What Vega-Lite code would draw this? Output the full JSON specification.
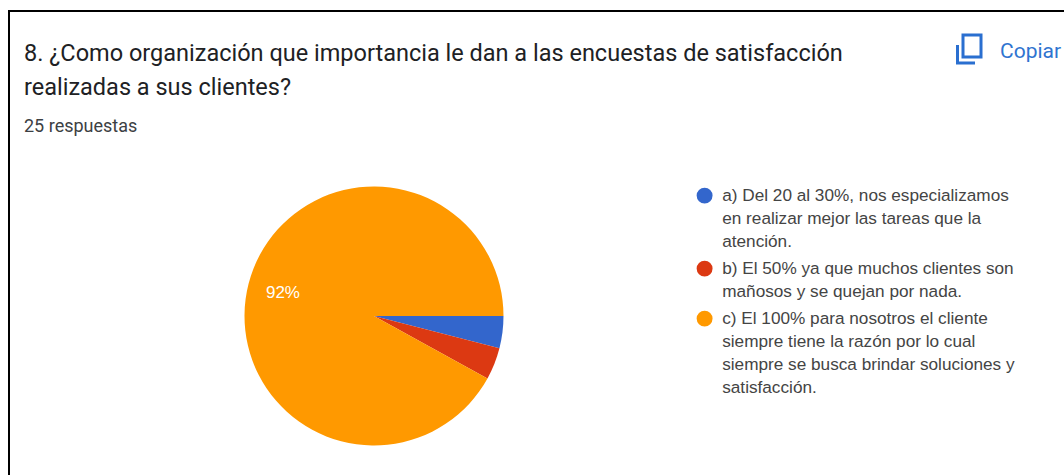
{"$schema":"https://vega.github.io/schema/vega-lite/v6.json","width":260,"height":260,"autosize":"none","padding":{"left":244,"top":186,"right":560,"bottom":29},"background":"#ffffff","title":{"text":["8. ¿Como organización que importancia le dan a las encuestas de satisfacción","realizadas a sus clientes?"],"subtitle":"25 respuestas","anchor":"start","frame":"group","dx":-220,"offset":-127,"font":"Roboto","fontSize":23.5,"fontWeight":"normal","color":"#202124","lineHeight":34,"subtitleFont":"Roboto","subtitleFontSize":18,"subtitleColor":"#3c4043","subtitlePadding":19},"data":{"values":[{"opcion":"a) Del 20 al 30%, nos especializamos\nen realizar mejor las tareas que la\natención.","respuestas":1,"porcentaje":"4%"},{"opcion":"b) El 50% ya que muchos clientes son\nmañosos y se quejan por nada.","respuestas":1,"porcentaje":"4%"},{"opcion":"c) El 100% para nosotros el cliente\nsiempre tiene la razón por lo cual\nsiempre se busca brindar soluciones y\nsatisfacción.","respuestas":23,"porcentaje":"92%"}]},"config":{"view":{"stroke":null},"style":{"guide-label":{"lineHeight":23}}},"layer":[{"mark":{"type":"arc","outerRadius":129.5},"encoding":{"theta":{"field":"respuestas","type":"quantitative","stack":true,"scale":{"range":[1.5708,7.854]}},"color":{"field":"opcion","type":"nominal","scale":{"range":["#3366cc","#dc3912","#ff9900"]},"legend":{"title":null,"orient":"right","offset":191,"padding":1,"symbolType":"circle","symbolSize":254,"symbolStrokeWidth":0,"labelFont":"Liberation Sans","labelFontSize":17.2,"labelColor":"#444444","labelLimit":400,"labelExpr":"split(datum.label,'\\n')","rowPadding":9,"labelOffset":9}}}},{"mark":{"type":"text","color":"#ffffff","font":"Liberation Sans","fontSize":17,"radius":94},"encoding":{"theta":{"field":"respuestas","type":"quantitative","stack":true,"scale":{"range":[1.5708,7.854]}},"order":{"field":"opcion"},"text":{"condition":{"test":"datum.respuestas > 5","field":"porcentaje"},"value":""}}},{"data":{"values":[{"accion":"Copiar"}]},"mark":{"type":"text","align":"left","baseline":"middle","font":"Roboto","fontSize":21,"color":"#2f74d0"},"encoding":{"text":{"field":"accion"},"x":{"value":756},"y":{"value":-134}}},{"data":{"values":[{"borde":"copiar"}]},"mark":{"type":"point","filled":false,"opacity":1,"stroke":"#2a6fd0","strokeWidth":3,"size":625,"shape":"M-0.52 -1.12H0.92V0.64H-0.52Z M-0.96 -0.32V1.12H0.44"},"encoding":{"x":{"value":725.5},"y":{"value":-137}}},{"data":{"values":[{"borde":"superior"}]},"mark":{"type":"rule","color":"#000000","strokeWidth":2},"encoding":{"x":{"value":-236},"x2":{"value":820},"y":{"value":-175}}},{"data":{"values":[{"borde":"izquierdo"}]},"mark":{"type":"rule","color":"#000000","strokeWidth":2},"encoding":{"x":{"value":-235},"y":{"value":-176},"y2":{"value":289}}}],"resolve":{"scale":{"theta":"shared"}}}
